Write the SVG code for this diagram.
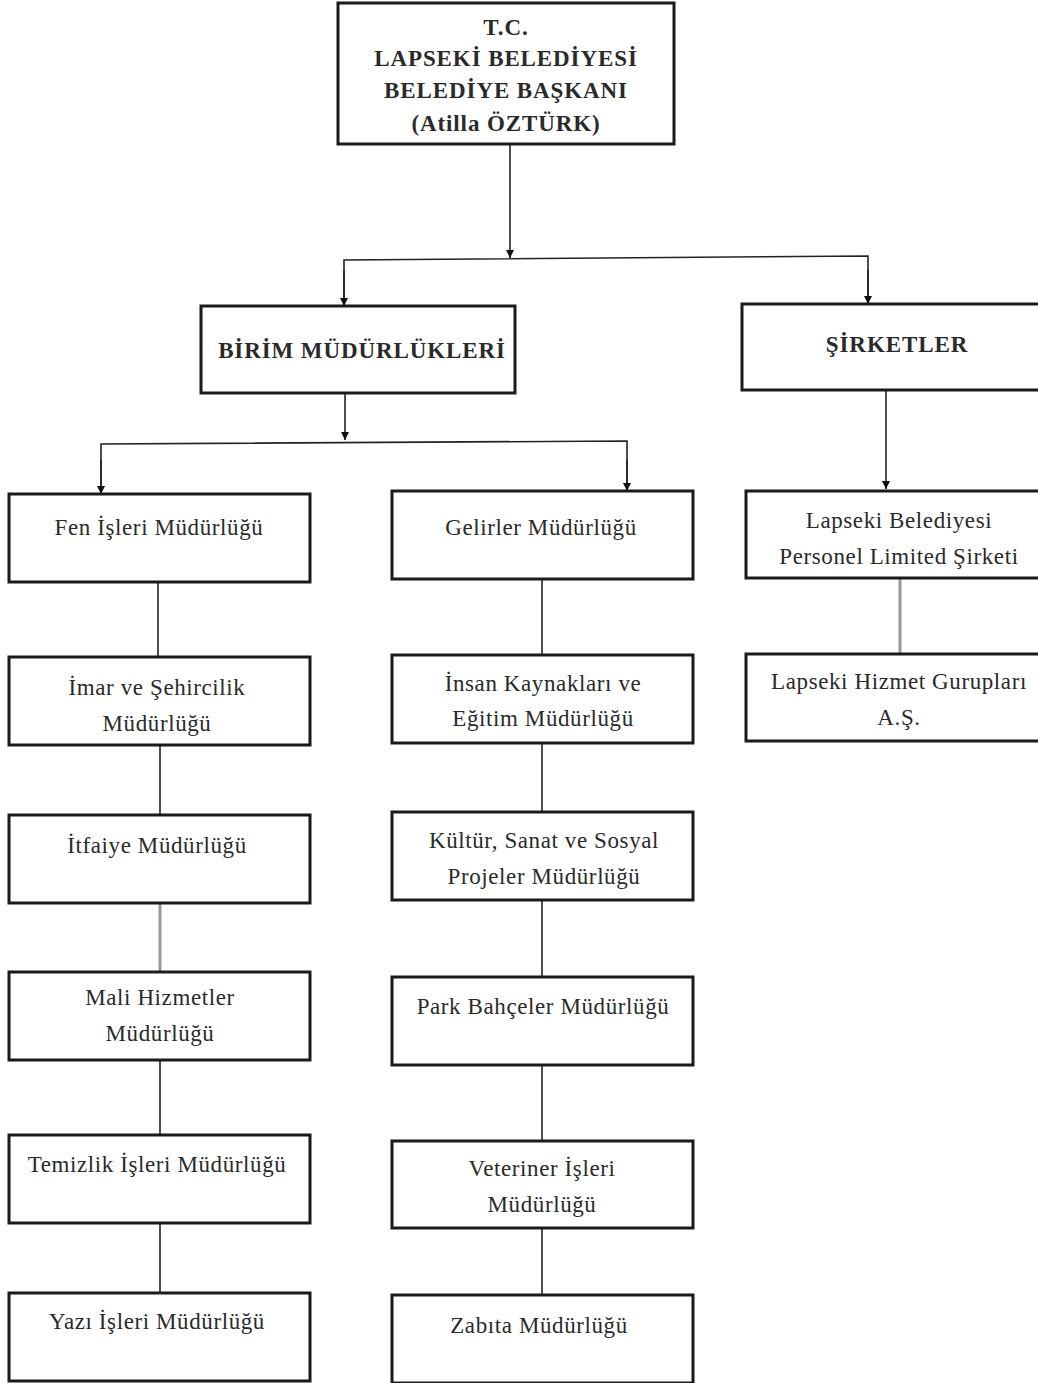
<svg xmlns="http://www.w3.org/2000/svg" width="1038" height="1383" viewBox="0 0 1038 1383">
<style>
.box{fill:#fff;stroke:#1a1a1a;stroke-width:3}
.t{font-family:"Liberation Serif","Times New Roman",serif;font-size:23px;letter-spacing:0.6px;fill:#2a2a2a;text-anchor:middle}
.b{font-weight:bold;font-size:23px;letter-spacing:0.9px}
.c{stroke:#222;stroke-width:1.6;fill:none}
.g{stroke:#999;stroke-width:3;fill:none}
</style>
<defs>
<marker id="ar" viewBox="0 0 10 10" refX="10" refY="5" markerWidth="8" markerHeight="8" orient="auto" markerUnits="userSpaceOnUse">
<path d="M0,0 L10,5 L0,10 z" fill="#111"/>
</marker>
</defs>
<rect width="1038" height="1383" fill="#fff"/>
<g id="connectors">
<path class="c" d="M510,144 V258" marker-end="url(#ar)"/>
<path class="c" d="M344,306 V260 L868,256 V304" />
<path class="c" d="M344,270 V306" marker-end="url(#ar)"/>
<path class="c" d="M868,270 V304" marker-end="url(#ar)"/>
<path class="c" d="M345,393 V440" marker-end="url(#ar)"/>
<path class="c" d="M101,494 V444 L627,441 V491"/>
<path class="c" d="M101,460 V494" marker-end="url(#ar)"/>
<path class="c" d="M627,460 V491" marker-end="url(#ar)"/>
<path class="c" d="M886,390 V489" marker-end="url(#ar)"/>
<path class="g" d="M900,578 V654"/>
<path class="c" d="M158,582 V657"/>
<path class="c" d="M160,745 V815"/>
<path class="g" d="M160,903 V972"/>
<path class="c" d="M160,1060 V1135"/>
<path class="c" d="M160,1223 V1293"/>
<path class="c" d="M542,579 V655"/>
<path class="c" d="M542,743 V812"/>
<path class="c" d="M542,900 V977"/>
<path class="c" d="M542,1065 V1141"/>
<path class="c" d="M542,1228 V1295"/>
</g>
<g id="baskan">
<rect class="box" x="338" y="3" width="336" height="141"/>
<text class="t b" x="506" y="35">T.C.</text>
<text class="t b" x="506" y="66">LAPSEKİ BELEDİYESİ</text>
<text class="t b" x="506" y="98">BELEDİYE BAŞKANI</text>
<text class="t b" x="506" y="131">(Atilla ÖZTÜRK)</text>
</g>
<g id="birim">
<rect class="box" x="201" y="306" width="314" height="87"/>
<text class="t b" x="362" y="358">BİRİM MÜDÜRLÜKLERİ</text>
</g>
<g id="sirketler">
<rect class="box" x="742" y="304" width="300" height="86"/>
<text class="t b" x="897" y="352">ŞİRKETLER</text>
</g>
<g id="fen">
<rect class="box" x="9" y="494" width="301" height="88"/>
<text class="t" x="159" y="535">Fen İşleri Müdürlüğü</text>
</g>
<g id="imar">
<rect class="box" x="9" y="657" width="301" height="88"/>
<text class="t" x="157" y="695">İmar ve Şehircilik</text>
<text class="t" x="157" y="731">Müdürlüğü</text>
</g>
<g id="itfaiye">
<rect class="box" x="9" y="815" width="301" height="88"/>
<text class="t" x="157" y="853">İtfaiye Müdürlüğü</text>
</g>
<g id="mali">
<rect class="box" x="9" y="972" width="301" height="88"/>
<text class="t" x="160" y="1005">Mali Hizmetler</text>
<text class="t" x="160" y="1041">Müdürlüğü</text>
</g>
<g id="temizlik">
<rect class="box" x="9" y="1135" width="301" height="88"/>
<text class="t" x="157" y="1172">Temizlik İşleri Müdürlüğü</text>
</g>
<g id="yazi">
<rect class="box" x="9" y="1293" width="301" height="88"/>
<text class="t" x="157" y="1329">Yazı İşleri Müdürlüğü</text>
</g>
<g id="gelirler">
<rect class="box" x="392" y="491" width="301" height="88"/>
<text class="t" x="541" y="535">Gelirler Müdürlüğü</text>
</g>
<g id="insan">
<rect class="box" x="392" y="655" width="301" height="88"/>
<text class="t" x="543" y="691">İnsan Kaynakları ve</text>
<text class="t" x="543" y="726">Eğitim Müdürlüğü</text>
</g>
<g id="kultur">
<rect class="box" x="392" y="812" width="301" height="88"/>
<text class="t" x="544" y="848">Kültür, Sanat ve Sosyal</text>
<text class="t" x="544" y="884">Projeler Müdürlüğü</text>
</g>
<g id="park">
<rect class="box" x="392" y="977" width="301" height="88"/>
<text class="t" x="543" y="1014">Park Bahçeler Müdürlüğü</text>
</g>
<g id="veteriner">
<rect class="box" x="392" y="1141" width="301" height="87"/>
<text class="t" x="542" y="1176">Veteriner İşleri</text>
<text class="t" x="542" y="1212">Müdürlüğü</text>
</g>
<g id="zabita">
<rect class="box" x="392" y="1295" width="301" height="88"/>
<text class="t" x="539" y="1333">Zabıta Müdürlüğü</text>
</g>
<g id="personel">
<rect class="box" x="746" y="491" width="296" height="87"/>
<text class="t" x="899" y="528">Lapseki Belediyesi</text>
<text class="t" x="899" y="564">Personel Limited Şirketi</text>
</g>
<g id="hizmet">
<rect class="box" x="746" y="654" width="296" height="87"/>
<text class="t" x="899" y="689">Lapseki Hizmet Gurupları</text>
<text class="t" x="899" y="725">A.Ş.</text>
</g>
</svg>
